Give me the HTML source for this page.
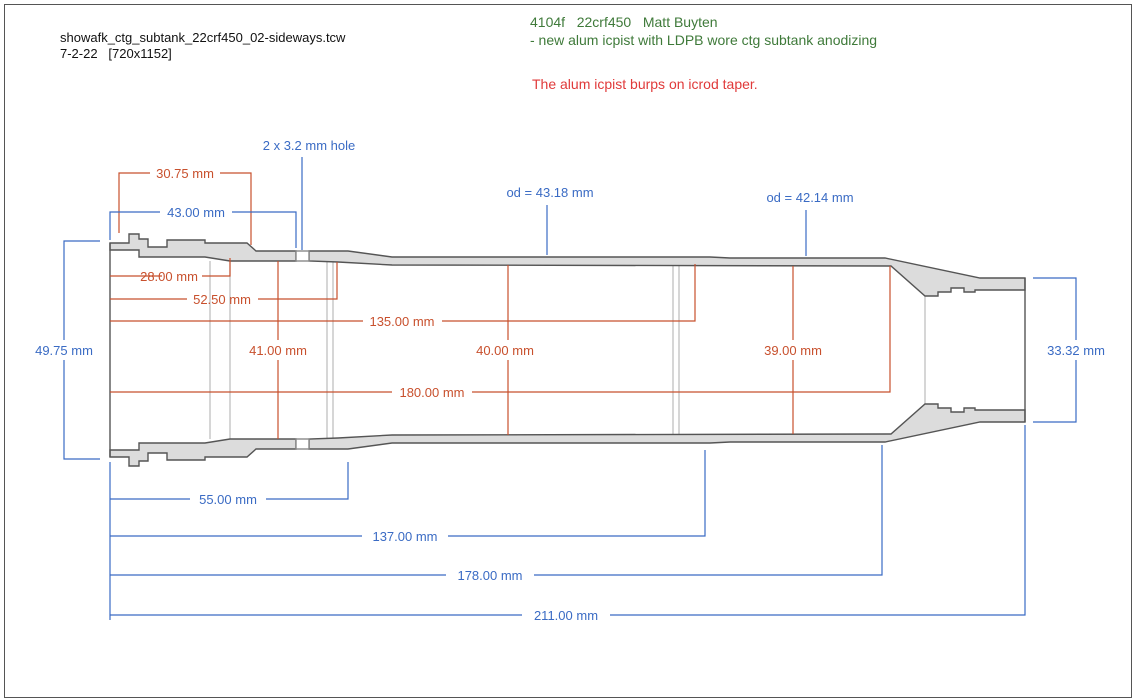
<!DOCTYPE html>
<html><head><style>
body{margin:0;background:#fff}
svg{display:block;font-family:"Liberation Sans",sans-serif}
.r{fill:#c8502d;font-size:13px}
.b{fill:#3a6bc4;font-size:13px}
</style></head><body>
<svg width="1136" height="700" viewBox="0 0 1136 700">
<rect x="4.5" y="4.5" width="1127" height="693" fill="#fff" stroke="#555" stroke-width="1"/>
<text x="60" y="42" font-size="13" fill="#111">showafk_ctg_subtank_22crf450_02-sideways.tcw</text>
<text x="60" y="58" font-size="13" fill="#111" xml:space="preserve">7-2-22   [720x1152]</text>
<text x="530" y="27" font-size="14" fill="#3f7a3a" xml:space="preserve">4104f   22crf450   Matt Buyten</text>
<text x="530" y="45" font-size="14" fill="#3f7a3a">- new alum icpist with LDPB wore ctg subtank anodizing</text>
<text x="532" y="89" font-size="14" fill="#e03a3a">The alum icpist burps on icrod taper.</text>

<g stroke="#bbb" stroke-width="1.2">
<line x1="210" y1="261" x2="210" y2="439"/><line x1="230" y1="261" x2="230" y2="439"/>
<line x1="327" y1="262" x2="327" y2="438"/><line x1="333" y1="262" x2="333" y2="438"/>
<line x1="673" y1="264" x2="673" y2="436"/><line x1="679" y1="264" x2="679" y2="436"/>
<line x1="925" y1="296" x2="925" y2="404"/>
</g>
<g id="w" fill="#dcdcdc" stroke="#555" stroke-width="1.4">
<polygon points="110,243 129,243 129,234 139,234 139,239 148,239 148,247 167,247 167,240 205,240 205,243 247,243 256,251 296,251 296,261 230,261 205,257 139,257 139,250 110,250"/>
<polygon points="309,251 348,251 392,257 710,257 730,258 885,258 980,278 1025,278 1025,290 975,290 975,292 964,292 964,288 951,288 951,292 938,292 938,296 925,296 891,266 392,265 338,262 309,261"/>
<rect x="296" y="251" width="13" height="10" fill="#fff" stroke="#888"/>
</g>
<use href="#w" transform="matrix(1 0 0 -1 0 700)"/>
<line x1="110" y1="243" x2="110" y2="457" stroke="#555" stroke-width="1.4"/>
<line x1="1025" y1="278" x2="1025" y2="422" stroke="#555" stroke-width="1.4"/>

<g stroke="#c8502d" stroke-width="1.2" fill="none">
<polyline points="119,233 119,173 150,173"/><polyline points="220,173 251,173 251,245"/>
<polyline points="110,276 162,276"/><polyline points="202,276 230,276 230,258"/>
<polyline points="110,299 187,299"/><polyline points="258,299 337,299 337,262"/>
<polyline points="110,321 363,321"/><polyline points="442,321 695,321 695,264"/>
<polyline points="110,392 392,392"/><polyline points="472,392 890,392 890,266"/>
<line x1="278" y1="261" x2="278" y2="340"/><line x1="278" y1="360" x2="278" y2="439"/>
<line x1="508" y1="265" x2="508" y2="340"/><line x1="508" y1="360" x2="508" y2="435"/>
<line x1="793" y1="266" x2="793" y2="340"/><line x1="793" y1="360" x2="793" y2="434"/>
</g>
<g text-anchor="middle">
<text x="185" y="178" class="r">30.75 mm</text>
<text x="169" y="281" class="r">28.00 mm</text>
<text x="222" y="304" class="r">52.50 mm</text>
<text x="402" y="326" class="r">135.00 mm</text>
<text x="278" y="355" class="r">41.00 mm</text>
<text x="505" y="355" class="r">40.00 mm</text>
<text x="793" y="355" class="r">39.00 mm</text>
<text x="432" y="397" class="r" font-size="14">180.00 mm</text>
</g>

<g stroke="#3a6bc4" stroke-width="1.2" fill="none">
<polyline points="110,240 110,212 160,212"/><polyline points="232,212 296,212 296,248"/>
<line x1="302" y1="157" x2="302" y2="250"/>
<line x1="547" y1="205" x2="547" y2="255"/>
<line x1="806" y1="210" x2="806" y2="256"/>
<polyline points="100,241 64,241 64,340"/><polyline points="64,360 64,459 100,459"/>
<polyline points="1033,278 1076,278 1076,340"/><polyline points="1076,360 1076,422 1033,422"/>
<polyline points="110,462 110,620"/>
<polyline points="110,499 190,499"/><polyline points="266,499 348,499 348,462"/>
<polyline points="110,536 362,536"/><polyline points="448,536 705,536 705,450"/>
<polyline points="110,575 446,575"/><polyline points="534,575 882,575 882,445"/>
<polyline points="110,615 522,615"/><polyline points="610,615 1025,615 1025,425"/>
</g>
<g text-anchor="middle">
<text x="196" y="217" class="b">43.00 mm</text>
<text x="309" y="150" class="b">2 x 3.2 mm hole</text>
<text x="550" y="197" class="b">od = 43.18 mm</text>
<text x="810" y="202" class="b">od = 42.14 mm</text>
<text x="64" y="355" class="b">49.75 mm</text>
<text x="1076" y="355" class="b">33.32 mm</text>
<text x="228" y="504" class="b">55.00 mm</text>
<text x="405" y="541" class="b">137.00 mm</text>
<text x="490" y="580" class="b">178.00 mm</text>
<text x="566" y="620" class="b">211.00 mm</text>
</g>
</svg>
</body></html>
